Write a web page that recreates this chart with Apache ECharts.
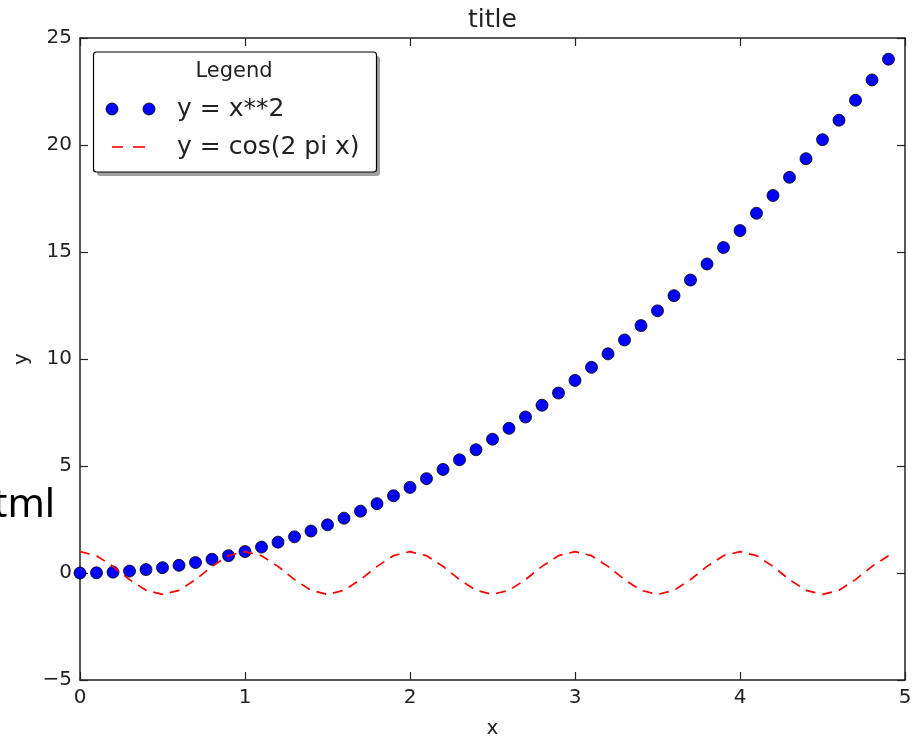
<!DOCTYPE html>
<html>
<head>
<meta charset="utf-8">
<script src="https://cdn.jsdelivr.net/npm/echarts@6/dist/echarts.min.js"></script>
<style>
  html, body { margin: 0; padding: 0; background: #fff; }
  #chart { width: 918px; height: 738px; }
</style>
</head>
<body>
<div id="chart"></div>
<script>
// Sample positions along x
var xValues = [0, 0.1, 0.2, 0.3, 0.4, 0.5, 0.6, 0.7, 0.8, 0.9,
  1, 1.1, 1.2, 1.3, 1.4, 1.5, 1.6, 1.7, 1.8, 1.9,
  2, 2.1, 2.2, 2.3, 2.4, 2.5, 2.6, 2.7, 2.8, 2.9,
  3, 3.1, 3.2, 3.3, 3.4, 3.5, 3.6, 3.7, 3.8, 3.9,
  4, 4.1, 4.2, 4.3, 4.4, 4.5, 4.6, 4.7, 4.8, 4.9];

// y = x**2 (dots)
var squareValues = [0, 0.01, 0.04, 0.09, 0.16, 0.25, 0.36, 0.49, 0.64, 0.81,
  1, 1.21, 1.44, 1.69, 1.96, 2.25, 2.56, 2.89, 3.24, 3.61,
  4, 4.41, 4.84, 5.29, 5.76, 6.25, 6.76, 7.29, 7.84, 8.41,
  9, 9.61, 10.24, 10.89, 11.56, 12.25, 12.96, 13.69, 14.44, 15.21,
  16, 16.81, 17.64, 18.49, 19.36, 20.25, 21.16, 22.09, 23.04, 24.01];

// y = cos(2 pi x) (dashed line)
var cosineValues = [1, 0.809, 0.309, -0.309, -0.809, -1, -0.809, -0.309, 0.309, 0.809,
  1, 0.809, 0.309, -0.309, -0.809, -1, -0.809, -0.309, 0.309, 0.809,
  1, 0.809, 0.309, -0.309, -0.809, -1, -0.809, -0.309, 0.309, 0.809,
  1, 0.809, 0.309, -0.309, -0.809, -1, -0.809, -0.309, 0.309, 0.809,
  1, 0.809, 0.309, -0.309, -0.809, -1, -0.809, -0.309, 0.309, 0.809];

var seriesNames = ['y = x**2', 'y = cos(2 pi x)'];
var legendTitle = 'Legend';
var chartTitle = 'title';
var xName = 'x';
var yName = 'y';
var xTicks = [0, 1, 2, 3, 4, 5];
var yTicks = [-5, 0, 5, 10, 15, 20, 25];

function pairs(xs, ys) {
  return xs.map(function (x, i) { return [x, ys[i]]; });
}

// Tick labels use a true minus sign
function tickText(v) {
  return String(v).replace('-', '\u2212');
}

var FONT = 'DejaVu Sans';
var INK = '#222';

var lineStyleAxis = { color: INK, width: 1.5 };
function baseAxis(extra) {
  var a = {
    type: 'value',
    axisLine: { show: true, onZero: false, lineStyle: lineStyleAxis },
    axisTick: { show: true, inside: true, length: 8, lineStyle: { color: INK, width: 1.2 } },
    splitLine: { show: false },
    axisLabel: { show: false }
  };
  for (var k in extra) a[k] = extra[k];
  return a;
}

var chart = echarts.init(document.getElementById('chart'), null, { renderer: 'canvas' });

var option = {
  animation: false,
  backgroundColor: '#fff',
  grid: { left: 80, right: 13, top: 38, bottom: 58, containLabel: false, outerBoundsMode: 'none' },
  xAxis: [
    baseAxis({
      position: 'bottom', min: xTicks[0], max: xTicks[xTicks.length - 1], interval: 1,
      axisLabel: { show: true, fontSize: 20, fontFamily: FONT, color: INK, margin: 8, formatter: tickText },
      name: xName, nameLocation: 'middle', nameGap: 39,
      nameTextStyle: { fontSize: 20, fontFamily: FONT, color: INK }
    }),
    baseAxis({ position: 'top', min: xTicks[0], max: xTicks[xTicks.length - 1], interval: 1 })
  ],
  yAxis: [
    baseAxis({
      position: 'left', min: yTicks[0], max: yTicks[yTicks.length - 1], interval: 5,
      axisLabel: { show: true, fontSize: 20, fontFamily: FONT, color: INK, margin: 8, formatter: tickText },
      name: yName, nameLocation: 'middle', nameGap: 40, nameRotate: 90,
      nameTextStyle: { fontSize: 20, fontFamily: FONT, color: INK }
    }),
    baseAxis({ position: 'right', min: yTicks[0], max: yTicks[yTicks.length - 1], interval: 5 })
  ],
  series: [
    {
      name: seriesNames[0],
      type: 'scatter',
      xAxisIndex: 0, yAxisIndex: 0,
      data: pairs(xValues, squareValues),
      symbol: 'circle',
      symbolSize: 12,
      itemStyle: { color: '#0000ff', borderColor: '#000', borderWidth: 0.8, opacity: 1 },
      z: 2
    },
    {
      name: seriesNames[1],
      type: 'line',
      xAxisIndex: 0, yAxisIndex: 0,
      data: pairs(xValues, cosineValues),
      showSymbol: false,
      symbol: 'none',
      lineStyle: { color: '#ff0000', width: 1.7, type: [10, 7] },
      z: 3
    }
  ],
  graphic: [
    // Title above the plot area
    { type: 'text', x: 492.5, y: 20, z: 10,
      style: { text: chartTitle, fontSize: 25, fontFamily: FONT, fill: INK, align: 'center', verticalAlign: 'middle' } },
    // Stray page text at the left edge
    { type: 'text', x: -7, y: 486, z: 10,
      style: { text: 'tml', fontSize: 40, fontFamily: 'Noto Sans', fill: '#000', align: 'left', verticalAlign: 'top' } },
    // Legend box with drop shadow
    { type: 'rect', z: 20, shape: { x: 97, y: 56, width: 283, height: 120, r: 3 },
      style: { fill: '#888', opacity: 0.8 } },
    { type: 'rect', z: 21, shape: { x: 93.5, y: 52, width: 283, height: 120, r: 3 },
      style: { fill: '#fff', stroke: '#000', lineWidth: 1.2 } },
    { type: 'text', x: 234, y: 72, z: 22,
      style: { text: legendTitle, fontSize: 21, fontFamily: FONT, fill: INK, align: 'center', verticalAlign: 'middle' } },
    { type: 'circle', z: 22, shape: { cx: 112, cy: 109, r: 6 },
      style: { fill: '#0000ff', stroke: '#000', lineWidth: 0.8 } },
    { type: 'circle', z: 22, shape: { cx: 149, cy: 109, r: 6 },
      style: { fill: '#0000ff', stroke: '#000', lineWidth: 0.8 } },
    { type: 'text', x: 177, y: 109, z: 22,
      style: { text: seriesNames[0], fontSize: 25, fontFamily: FONT, fill: INK, align: 'left', verticalAlign: 'middle' } },
    { type: 'line', z: 22, shape: { x1: 112, y1: 147, x2: 123, y2: 147 },
      style: { stroke: '#ff0000', lineWidth: 1.6 } },
    { type: 'line', z: 22, shape: { x1: 133, y1: 147, x2: 145, y2: 147 },
      style: { stroke: '#ff0000', lineWidth: 1.6 } },
    { type: 'text', x: 177, y: 147, z: 22,
      style: { text: seriesNames[1], fontSize: 25, fontFamily: FONT, fill: INK, align: 'left', verticalAlign: 'middle' } }
  ]
};

chart.setOption(option);
</script>
</body>
</html>
